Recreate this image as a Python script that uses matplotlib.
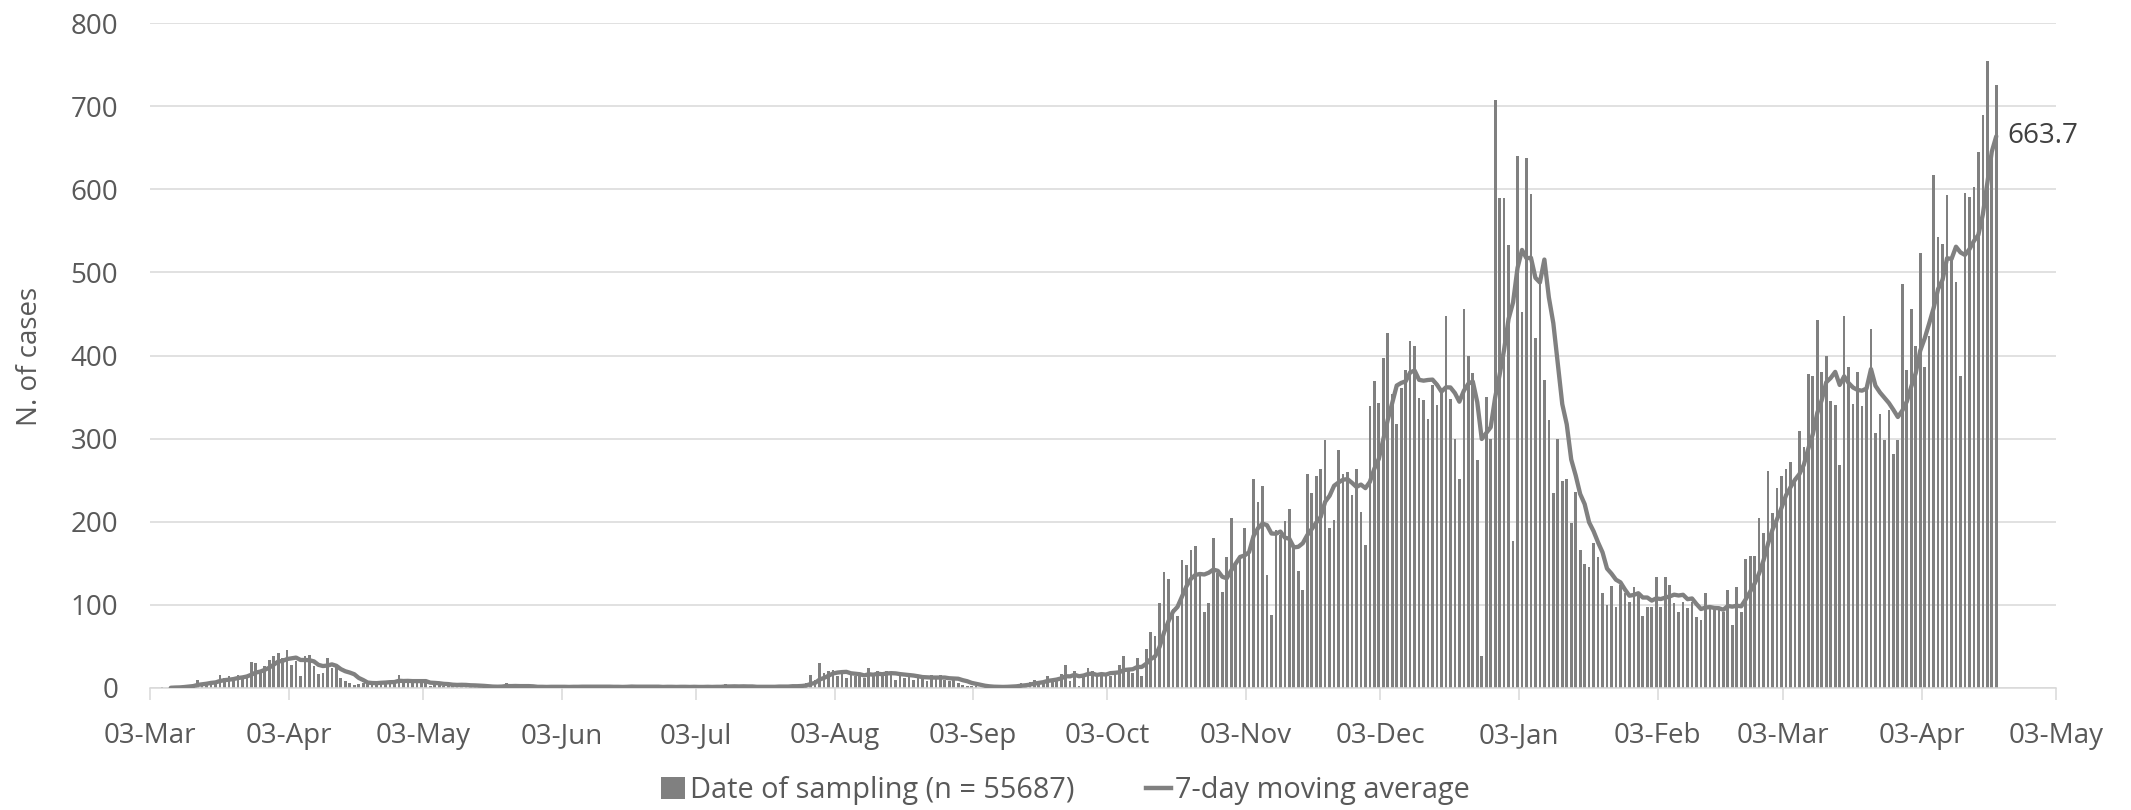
import matplotlib
matplotlib.use("Agg")
import matplotlib.pyplot as plt
import matplotlib.dates as mdates
import pandas as pd
from matplotlib.patches import Patch
from matplotlib.lines import Line2D

# ---- data: daily counts by date of sampling (first day = 2020-03-01) ----
start_date = "2020-03-01"
mar20 = [0, 0, 0, 0, 1, 0, 1, 2, 1, 3, 4, 5, 10, 6, 7, 8, 7, 16, 12, 14, 11, 16, 13, 15, 31, 30, 22, 26, 34, 38, 42]
apr20 = [36, 46, 28, 32, 14, 38, 40, 26, 17, 18, 36, 24, 26, 12, 8, 6, 4, 5, 6, 5, 8, 7, 9, 6, 8, 7, 16, 6, 8, 7]
may20 = [6, 8, 7, 3, 4, 5, 2, 4, 3, 5, 4, 3, 2, 1, 2, 1, 2, 1, 2, 3, 6, 1, 2, 1, 1, 2, 1, 2, 1, 1, 2]
jun20 = [1, 2, 1, 1, 2, 1, 3, 1, 2, 1, 1, 2, 1, 2, 1, 1, 2, 3, 1, 1, 2, 1, 1, 2, 1, 2, 1, 1, 2, 1]
jul20 = [1, 2, 1, 1, 2, 1, 2, 1, 5, 1, 2, 1, 2, 1, 1, 2, 1, 2, 1, 2, 3, 1, 2, 4, 2, 3, 6, 16, 10, 30, 18]
aug20 = [20, 22, 14, 20, 12, 18, 14, 16, 12, 24, 16, 20, 14, 20, 19, 10, 18, 12, 16, 10, 14, 12, 8, 16, 12, 16, 10, 8, 10, 6, 4]
sep20 = [3, 2, 2, 0, 2, 1, 1, 2, 1, 3, 2, 4, 6, 5, 7, 10, 9, 8, 15, 11, 11, 17, 28, 8, 21, 3, 17, 24, 20, 17]
oct20 = [15, 17, 15, 20, 28, 39, 21, 18, 36, 15, 47, 67, 62, 102, 139, 131, 95, 87, 154, 148, 166, 171, 139, 91, 102,
         180, 138, 116, 158, 204, 150]
nov20 = [158, 192, 166, 252, 224, 243, 136, 88, 190, 184, 201, 215, 170, 141, 118, 258, 235, 255, 263, 298, 192, 202,
         286, 258, 260, 232, 263, 212, 172, 339]
dec20 = [369, 343, 397, 427, 354, 318, 361, 383, 418, 412, 349, 347, 324, 364, 340, 360, 448, 348, 300, 251, 456, 399,
         379, 274, 38, 350, 300, 707, 590, 590, 533]
jan21 = [177, 640, 452, 637, 594, 421, 494, 370, 322, 234, 300, 249, 251, 198, 236, 166, 149, 146, 174, 157, 114, 100,
         123, 98, 124, 114, 104, 121, 114, 87, 98]
feb21 = [98, 133, 98, 133, 124, 102, 91, 104, 96, 104, 86, 82, 114, 96, 96, 94, 91, 118, 76, 122, 91, 155, 159, 159,
         204, 187, 261, 210]
mar21 = [241, 255, 264, 272, 250, 309, 290, 378, 375, 443, 380, 400, 345, 341, 268, 448, 386, 342, 380, 339, 359, 432,
         307, 330, 298, 335, 282, 298, 486, 383, 456]
apr21 = [412, 523, 386, 423, 617, 543, 534, 593, 517, 489, 375, 596, 591, 603, 645, 689, 754, 639, 725]

bar_label = "Date of sampling (n = 55687)"
line_label = "7-day moving average"
y_label = "N. of cases"
y_ticks = [0, 100, 200, 300, 400, 500, 600, 700, 800]

values = mar20 + apr20 + may20 + jun20 + jul20 + aug20 + sep20 + oct20 + nov20 + dec20 + jan21 + feb21 + mar21 + apr21
dates = pd.date_range(start_date, periods=len(values), freq="D")
moving_avg = pd.Series(values, dtype=float).rolling(7).mean()

# ---- style ----
FONT = ["Open Sans", "DejaVu Sans"]
plt.rcParams["font.family"] = FONT
FS = 20
GREY = "#808080"
TXT = "#595959"
GRID = "#d9d9d9"

W, H = 2131, 810
fig = plt.figure(figsize=(W / 100, H / 100), dpi=100)
fig.patch.set_facecolor("white")
ax = fig.add_axes([150 / W, 1 - 688 / H, (2056 - 150) / W, (688 - 23) / H])

x = mdates.date2num(dates) + 0.65
ax.bar(x, values, width=0.6, color=GREY, linewidth=0, zorder=2)
ax.plot(x, moving_avg, color=GREY, lw=3.1, zorder=3, solid_joinstyle="round", solid_capstyle="round")

ax.set_xlim(mdates.date2num(pd.Timestamp("2020-03-03")), mdates.date2num(pd.Timestamp("2021-05-03")))
ax.set_ylim(0, 800)
ax.set_yticks(y_ticks)
ax.yaxis.grid(True, color=GRID, lw=1.1, zorder=0)
ax.set_axisbelow(True)

ax.xaxis.set_major_locator(mdates.MonthLocator(bymonthday=3))
ax.xaxis.set_major_formatter(mdates.DateFormatter("%d-%b"))

for s in ["top", "right", "left"]:
    ax.spines[s].set_visible(False)
ax.spines["bottom"].set_color(GRID)
ax.spines["bottom"].set_linewidth(1.1)

ax.tick_params(axis="y", length=0, pad=23, labelsize=FS, labelcolor=TXT)
ax.tick_params(axis="x", length=8.5, width=1.1, color=GRID, pad=16, labelsize=FS, labelcolor=TXT)

fig.text(30 / W, 1 - 356 / H, y_label, rotation=90, ha="center", va="center",
         fontsize=FS, color=TXT)

last_x = x[-1]
last_y = moving_avg.iloc[-1]
ax.annotate(f"{last_y:.1f}", xy=(last_x, last_y), xytext=(8, 0), textcoords="offset points",
            ha="left", va="center", fontsize=FS, color="#404040")

handles = [Patch(facecolor=GREY, edgecolor="none"), Line2D([0], [0], color=GREY, lw=3.2)]
fig.legend(handles, [bar_label, line_label], loc="lower center", bbox_to_anchor=(0.5, -0.026), ncol=2,
           frameon=False, fontsize=20.8, labelcolor=TXT, handlelength=0.85, handletextpad=0.15,
           columnspacing=2.5, handleheight=0.8)

fig.savefig("out.png", dpi=100, facecolor="white")
